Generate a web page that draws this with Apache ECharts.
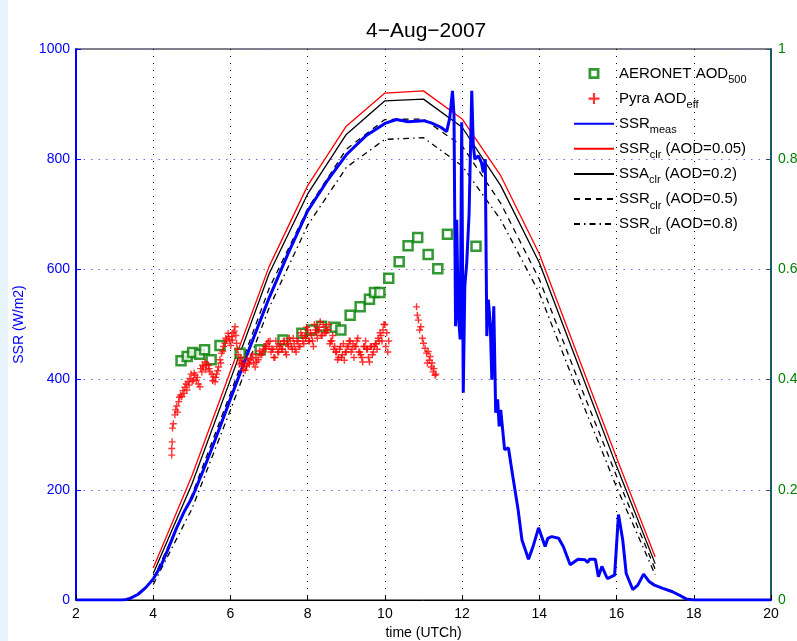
<!DOCTYPE html>
<html><head><meta charset="utf-8">
<script src="https://cdn.jsdelivr.net/npm/echarts@6/dist/echarts.min.js"></script>
<style>html,body{margin:0;padding:0;background:#fff}#c{width:797px;height:641px}</style>
</head><body><div id="c"></div>
<script>
// ---- data ----
const titleText = '4\u2212Aug\u22122007';
const ssrTime = [2, 3.2, 3.3, 3.4, 3.6, 3.8, 4.0, 4.2, 4.4, 4.6, 4.8, 5.0, 5.3, 5.6, 6.0, 6.5, 7.0, 7.5, 8.0, 8.5, 9.0, 9.5, 10.0, 10.3, 10.6, 11.0, 11.2, 11.45, 11.6, 11.68, 11.75, 11.79, 11.83, 11.86, 11.9, 11.95, 11.99, 12.03, 12.07, 12.12, 12.18, 12.25, 12.29, 12.33, 12.42, 12.5, 12.55, 12.6, 12.64, 12.68, 12.73, 12.77, 12.82, 12.87, 12.92, 12.96, 13.0, 13.1, 13.2, 13.3, 13.45, 13.55, 13.72, 13.85, 13.98, 14.15, 14.22, 14.32, 14.5, 14.62, 14.8, 15.0, 15.18, 15.25, 15.3, 15.45, 15.53, 15.62, 15.76, 15.95, 16.05, 16.16, 16.25, 16.42, 16.55, 16.7, 16.85, 16.98, 17.2, 17.45, 17.62, 17.8, 18, 20];
const ssrMeas = [0, 0, 1, 3, 10, 22, 38, 62, 95, 130, 160, 185, 236, 290, 365, 458, 548, 630, 706, 760, 808, 842, 865, 872, 868, 870, 866, 858, 850, 875, 924, 880, 497, 690, 520, 473, 867, 376, 570, 612, 700, 924, 824, 800, 806, 794, 776, 800, 479, 545, 500, 400, 533, 340, 364, 315, 345, 273, 276, 230, 164, 109, 74, 100, 131, 97, 112, 115, 112, 97, 64, 74, 73, 68, 74, 74, 42, 61, 39, 45, 155, 109, 48, 19, 27, 47, 33, 27, 21, 15, 9, 2, 0, 0];
const clrHours = [4, 5, 6, 7, 8, 9, 10, 11, 12, 13, 14, 15, 16, 17];
const clr005 = [58, 225, 415, 605, 752, 860, 920, 924, 873, 770, 628, 443, 258, 78];
const clr02  = [48, 210, 400, 592, 737, 845, 906, 909, 858, 752, 612, 428, 243, 66];
const clr05  = [38, 190, 375, 565, 710, 818, 872, 873, 824, 720, 582, 400, 225, 56];
const clr08  = [28, 165, 345, 530, 680, 785, 836, 839, 788, 690, 557, 378, 205, 46];
const aeronetTime = [4.72, 4.88, 5.02, 5.2, 5.33, 5.5, 5.73, 6.25, 6.77, 7.36, 7.85, 8.1, 8.36, 8.71, 8.86, 9.1, 9.36, 9.6, 9.73, 9.87, 10.1, 10.37, 10.6, 10.85, 11.12, 11.37, 11.62, 12.36];
const aeronetAod = [0.434, 0.442, 0.449, 0.446, 0.454, 0.436, 0.462, 0.448, 0.454, 0.472, 0.484, 0.49, 0.497, 0.495, 0.49, 0.517, 0.532, 0.546, 0.558, 0.558, 0.584, 0.614, 0.643, 0.658, 0.627, 0.601, 0.664, 0.642];
const pyraTime = [
 4.48, 4.48, 4.49, 4.50, 4.52, 4.56, 4.58, 4.61, 4.63, 4.66, 4.68, 4.71, 4.74, 4.77, 4.80, 4.82, 4.85, 4.87, 4.90, 4.93, 4.95, 4.98, 5.01,
 5.04, 5.08, 5.12, 5.17, 5.21, 5.26, 5.30, 5.34, 5.38, 5.43, 5.47, 5.52, 5.56, 5.60, 5.64, 5.69, 5.73, 5.77, 5.82, 5.86, 5.90, 5.94, 5.98,
 6.03, 6.07, 6.12, 6.16, 6.20, 6.25, 6.29, 6.33, 6.38, 6.42, 6.46, 6.51, 6.55, 6.60, 6.64, 6.68, 6.72, 6.77, 6.81, 6.86, 6.90, 6.94, 6.98,
 5.06, 5.14, 5.23, 5.28, 5.36, 5.45, 5.54, 5.62, 5.67, 5.75, 5.80, 5.88, 5.96, 6.01, 6.05, 6.10, 6.14, 6.18, 6.23, 6.27, 6.31, 6.36, 6.44, 6.49, 6.58, 6.66, 6.75, 6.84, 6.92,
 7.00, 7.05, 7.10, 7.15, 7.20, 7.25, 7.30, 7.35, 7.40, 7.45, 7.50, 7.55, 7.60, 7.65, 7.70, 7.75, 7.80, 7.85, 7.90, 7.95,
 8.00, 8.05, 8.10, 8.15, 8.20, 8.25, 8.30, 8.35, 8.40, 8.45, 8.50, 8.55, 8.60, 8.65, 8.70, 8.75, 8.80, 8.85, 8.90, 8.95,
 9.00, 9.05, 9.10, 9.15, 9.20, 9.25, 9.30, 9.35, 9.40, 9.45, 9.50, 9.55, 9.60, 9.65, 9.70, 9.75, 9.80, 9.85, 9.90, 9.95, 10.00, 10.05, 10.10,
 7.025, 7.075, 7.125, 7.175, 7.225, 7.275, 7.325, 7.375, 7.425, 7.475, 7.525, 7.575, 7.625, 7.675, 7.725, 7.775, 7.825, 7.875, 7.925, 7.975,
 8.025, 8.075, 8.125, 8.175, 8.225, 8.275, 8.325, 8.375, 8.425, 8.475, 8.525, 8.575, 8.625, 8.675, 8.725, 8.775, 8.825, 8.875, 8.925, 8.975,
 9.025, 9.075, 9.125, 9.175, 9.225, 9.275, 9.325, 9.375, 9.425, 9.475, 9.525, 9.575, 9.625, 9.675, 9.725, 9.775, 9.825, 9.875, 9.925, 9.975, 10.025, 10.075,
 10.82, 10.84, 10.87, 10.90, 10.93, 10.97, 11.00, 11.04, 11.08, 11.10, 11.12, 11.15, 11.17, 11.20, 11.22, 11.25, 11.27, 11.30, 11.32
];
const pyraAod = [
 0.263, 0.275, 0.287, 0.312, 0.320, 0.336, 0.345, 0.352, 0.341, 0.360, 0.368, 0.372, 0.369, 0.380, 0.375, 0.386, 0.392, 0.381, 0.396, 0.390, 0.402, 0.410, 0.397,
 0.399, 0.408, 0.399, 0.392, 0.387, 0.414, 0.423, 0.432, 0.428, 0.426, 0.414, 0.410, 0.405, 0.396, 0.410, 0.423, 0.436, 0.448, 0.460, 0.466, 0.472, 0.484, 0.470,
 0.478, 0.485, 0.496, 0.466, 0.445, 0.435, 0.430, 0.418, 0.417, 0.425, 0.430, 0.436, 0.439, 0.430, 0.423, 0.432, 0.436, 0.445, 0.445, 0.455, 0.460, 0.465, 0.469,
 0.412, 0.404, 0.420, 0.426, 0.418, 0.420, 0.398, 0.404, 0.416, 0.430, 0.452, 0.475, 0.478, 0.462, 0.472, 0.488, 0.480, 0.455, 0.428, 0.440, 0.424, 0.428, 0.438, 0.428, 0.446, 0.440, 0.452, 0.450, 0.456,
 0.460, 0.450, 0.455, 0.440, 0.460, 0.450, 0.465, 0.455, 0.470, 0.445, 0.460, 0.470, 0.455, 0.465, 0.450, 0.470, 0.460, 0.480, 0.465, 0.475,
 0.490, 0.470, 0.480, 0.460, 0.490, 0.475, 0.495, 0.480, 0.500, 0.485, 0.490, 0.500, 0.470, 0.480, 0.460, 0.450, 0.440, 0.460, 0.445, 0.435,
 0.450, 0.460, 0.470, 0.455, 0.440, 0.460, 0.475, 0.450, 0.440, 0.460, 0.470, 0.455, 0.432, 0.460, 0.450, 0.465, 0.455, 0.470, 0.480, 0.490, 0.500, 0.485, 0.470,
 0.470, 0.455, 0.440, 0.470, 0.450, 0.460, 0.455, 0.470, 0.450, 0.465, 0.475, 0.460, 0.475, 0.455, 0.470, 0.460, 0.485, 0.470, 0.480, 0.495,
 0.470, 0.485, 0.470, 0.500, 0.485, 0.490, 0.505, 0.480, 0.495, 0.485, 0.490, 0.465, 0.470, 0.455, 0.450, 0.436, 0.455, 0.440, 0.465, 0.450,
 0.460, 0.470, 0.450, 0.465, 0.460, 0.470, 0.450, 0.445, 0.432, 0.460, 0.455, 0.440, 0.460, 0.445, 0.460, 0.465, 0.475, 0.485, 0.470, 0.500, 0.460, 0.450,
 0.532, 0.517, 0.508, 0.490, 0.496, 0.475, 0.466, 0.457, 0.448, 0.430, 0.451, 0.435, 0.442, 0.423, 0.430, 0.414, 0.420, 0.408, 0.410
];

const zip = (a, b) => a.map((v, i) => [v, b[i]]);
const FONT = '"Liberation Sans", Arial, Helvetica, sans-serif';
const plusPath = 'path://M4,0h2v4h4v2h-4v4h-2v-4h-4v-2h4z';
const squarePath = 'path://M0,0h10v10h-10z M2.5,2.5v5h5v-5z';

const legendRich = {
  'AERONET AOD500': '{m|AERONET AOD}{s|500}',
  'Pyra AODeff': '{m|Pyra AOD}{s|eff}',
  'SSRmeas': '{m|SSR}{s|meas}',
  'SSRclr (AOD=0.05)': '{m|SSR}{s|clr}{m| (AOD=0.05)}',
  'SSAclr (AOD=0.2)': '{m|SSA}{s|clr}{m| (AOD=0.2)}',
  'SSRclr (AOD=0.5)': '{m|SSR}{s|clr}{m| (AOD=0.5)}',
  'SSRclr (AOD=0.8)': '{m|SSR}{s|clr}{m| (AOD=0.8)}'
};
const hideSym = {opacity: 0};

const chart = echarts.init(document.getElementById('c'), null, {renderer: 'canvas'});
chart.setOption({
  animation: false,
  backgroundColor: '#fff',
  textStyle: {fontFamily: FONT},
  graphic: [{type: 'rect', left: 0, top: 0, shape: {width: 8, height: 641}, style: {fill: '#e6f3fb'}, z: -10}],
  title: {text: titleText, left: 361, top: 16, textStyle: {fontSize: 21, fontWeight: 'normal', color: '#000', fontFamily: FONT}},
  grid: {left: 76, right: 26, top: 49, bottom: 41, outerBoundsMode: 'none', containLabel: false,
    show: true, borderColor: '#000', borderWidth: 1, backgroundColor: '#fff'},
  legend: {
    orient: 'vertical', left: 573, top: 66, padding: 0, itemWidth: 40, itemHeight: 11, itemGap: 5.6,
    symbolKeepAspect: true,
    formatter: n => legendRich[n] || n,
    textStyle: {color: '#000', fontFamily: FONT, rich: {
      m: {fontSize: 15, color: '#000', fontFamily: FONT},
      s: {fontSize: 11, color: '#000', fontFamily: FONT, padding: [13, 0, 0, 0]}
    }},
    data: [
      {name: 'AERONET AOD500', icon: squarePath, itemStyle: {color: '#008000', borderWidth: 0}},
      {name: 'Pyra AODeff', icon: plusPath, itemStyle: {color: '#ff0000'}},
      {name: 'SSRmeas', itemStyle: hideSym},
      {name: 'SSRclr (AOD=0.05)', itemStyle: hideSym},
      {name: 'SSAclr (AOD=0.2)', itemStyle: hideSym},
      {name: 'SSRclr (AOD=0.5)', itemStyle: hideSym},
      {name: 'SSRclr (AOD=0.8)', itemStyle: hideSym}
    ]
  },
  xAxis: {
    type: 'value', min: 2, max: 20, interval: 2,
    name: 'time (UTCh)', nameLocation: 'middle', nameGap: 26,
    nameTextStyle: {fontSize: 14, color: '#000', fontFamily: FONT},
    axisLine: {lineStyle: {color: '#000', width: 1}},
    axisTick: {inside: true, length: 5, lineStyle: {color: '#000'}},
    axisLabel: {fontSize: 14, color: '#000', margin: 7, fontFamily: FONT},
    splitLine: {show: true, lineStyle: {color: '#000', type: [1, 6], width: 1}}
  },
  yAxis: [{
    type: 'value', min: 0, max: 1000, interval: 200, position: 'left',
    name: 'SSR (W/m2)', nameLocation: 'middle', nameGap: 50,
    nameTextStyle: {fontSize: 14, color: '#0000ff', fontFamily: FONT},
    axisLine: {show: true, lineStyle: {color: '#0000ff', width: 2}},
    axisTick: {show: true, inside: true, length: 5, lineStyle: {color: '#0000ff'}},
    axisLabel: {fontSize: 14, color: '#0000ff', margin: 6, fontFamily: FONT, formatter: v => String(v)},
    splitLine: {show: true, lineStyle: {color: '#6a6aff', type: [1.5, 6], width: 1}}
  }, {
    type: 'value', min: 0, max: 1, interval: 0.2, position: 'right',
    axisLine: {show: true, lineStyle: {color: '#1b5868', width: 2}},
    axisTick: {show: true, inside: true, length: 5, lineStyle: {color: '#1b5868'}},
    axisLabel: {fontSize: 14, color: '#008000', margin: 7, fontFamily: FONT, formatter: v => String(v)},
    splitLine: {show: false}
  }],
  series: [
    {name: 'SSRclr (AOD=0.05)', type: 'line', data: zip(clrHours, clr005), symbol: 'none', lineStyle: {color: '#ff0000', width: 1.3}, itemStyle: {color: '#ff0000'}, z: 2},
    {name: 'SSAclr (AOD=0.2)', type: 'line', data: zip(clrHours, clr02), symbol: 'none', lineStyle: {color: '#000', width: 1.3}, itemStyle: {color: '#000'}, z: 2},
    {name: 'SSRclr (AOD=0.5)', type: 'line', data: zip(clrHours, clr05), symbol: 'none', lineStyle: {color: '#000', width: 1.3, type: [6, 5]}, itemStyle: {color: '#000'}, z: 2},
    {name: 'SSRclr (AOD=0.8)', type: 'line', data: zip(clrHours, clr08), symbol: 'none', lineStyle: {color: '#000', width: 1.3, type: [6, 4, 1.5, 4]}, itemStyle: {color: '#000'}, z: 2},
    {name: 'SSRmeas', type: 'line', data: zip(ssrTime, ssrMeas), symbol: 'none', lineStyle: {color: '#0000ff', width: 3}, itemStyle: {color: '#0000ff'}, z: 3},
    {name: 'AERONET AOD500', type: 'scatter', yAxisIndex: 1, data: zip(aeronetTime, aeronetAod), symbol: 'rect', symbolSize: 9,
      itemStyle: {color: '#fff', borderColor: '#008000', borderWidth: 2.5}, z: 4},
    {name: 'Pyra AODeff', type: 'scatter', yAxisIndex: 1, data: zip(pyraTime, pyraAod), symbol: plusPath, symbolSize: 7,
      itemStyle: {color: '#ff0000'}, z: 5}
  ]
});
</script>
</body></html>
